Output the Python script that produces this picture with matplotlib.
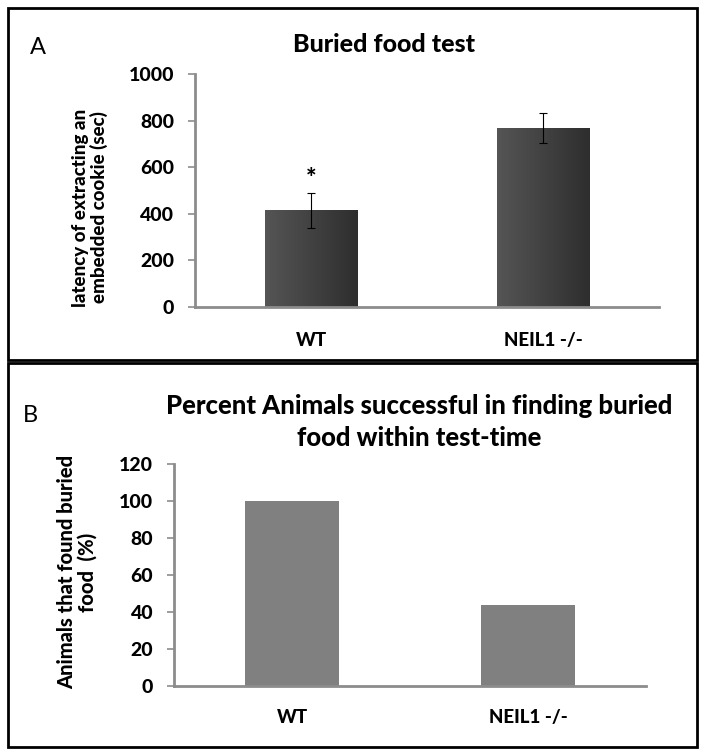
import matplotlib
matplotlib.use("Agg")
import matplotlib.pyplot as plt
import numpy as np
from matplotlib.patches import Rectangle
from matplotlib.colors import LinearSegmentedColormap

# ---- data ----
groups = ["WT", "NEIL1 -/-"]
latency = [415, 768]
latency_err = [75, 63]
percent_found = [100, 44]
title_a = "Buried food test"
ylabel_a = "latency of extracting an\nembedded cookie (sec)"
title_b = "Percent Animals successful in finding buried\nfood within test-time"
ylabel_b = "Animals that found buried\nfood  (%)"
yticks_a = [0, 200, 400, 600, 800, 1000]
yticks_b = [0, 20, 40, 60, 80, 100, 120]

plt.rcParams['font.family'] = ['Lato', 'DejaVu Sans']
BW = 900

W, H = 704, 754
fig = plt.figure(figsize=(W / 100, H / 100), dpi=100)

def fx(px):
    return px / W

def fy(py):
    return 1 - py / H

# panel borders
for (x0, y0, x1, y1) in [(8, 8, 697, 360), (8, 363, 697, 747)]:
    fig.patches.append(Rectangle((fx(x0), fy(y1)), fx(x1) - fx(x0), fy(y0) - fy(y1),
                                 transform=fig.transFigure, fill=False,
                                 edgecolor='black', linewidth=2))

def style_axes(ax, xpad):
    for s in ['top', 'right']:
        ax.spines[s].set_visible(False)
    for s in ['left', 'bottom']:
        ax.spines[s].set_color('#8c8c8c')
        ax.spines[s].set_linewidth(2)
    ax.tick_params(axis='y', direction='out', length=5, width=1.2, color='#8c8c8c',
                   labelsize=14, pad=10)
    ax.tick_params(axis='x', length=0, labelsize=13.5, pad=xpad)
    for lab in ax.get_xticklabels() + ax.get_yticklabels():
        lab.set_fontweight(BW)

x = np.arange(len(groups))

# ---- Panel A ----
A_l, A_r, A_b, A_t = 195, 659, 307, 74
axA = fig.add_axes([fx(A_l), fy(A_b), fx(A_r) - fx(A_l), fy(A_t) - fy(A_b)])
bars = axA.bar(x, latency, width=0.4, color='#444444', zorder=2)
grad = np.linspace(0, 1, 256).reshape(1, -1)
cmap = LinearSegmentedColormap.from_list('g', ['#555555', '#2e2e2e'])
for b in bars:
    bx, by, bw, bh = b.get_x(), b.get_y(), b.get_width(), b.get_height()
    im = axA.imshow(grad, cmap=cmap, extent=[bx, bx + bw, by, by + bh],
                    aspect='auto', zorder=2.5)
    im.set_clip_path(b)
axA.errorbar(x, latency, yerr=latency_err, fmt='none', ecolor='black',
             elinewidth=0.8, capsize=3, capthick=0.8, zorder=3)
axA.text(x[0], latency[0] + latency_err[0] + 12, "*", ha='center', va='bottom',
         fontsize=18, fontweight=BW)
axA.set_xlim(-0.5, 1.5)
axA.set_ylim(0, 1000)
axA.set_yticks(yticks_a)
axA.set_xticks(x)
axA.set_xticklabels(groups)
style_axes(axA, 18)
axA.set_ylabel(ylabel_a, fontsize=13.5, fontweight=BW, linespacing=1.05)
axA.yaxis.set_label_coords((108 - A_l) / (A_r - A_l), (A_b - 207.5) / (A_b - A_t))
fig.text(fx(384), fy(44), title_a, ha='center', va='center', fontsize=18, fontweight=BW)
fig.text(fx(38), fy(47), "A", ha='center', va='center', fontsize=17)

# ---- Panel B ----
B_l, B_r, B_b, B_t = 174, 646, 686, 464
axB = fig.add_axes([fx(B_l), fy(B_b), fx(B_r) - fx(B_l), fy(B_t) - fy(B_b)])
axB.bar(x, percent_found, width=0.4, color='#808080', zorder=2)
axB.set_xlim(-0.5, 1.5)
axB.set_ylim(0, 120)
axB.set_yticks(yticks_b)
axB.set_xticks(x)
axB.set_xticklabels(groups)
style_axes(axB, 16.5)
axB.set_ylabel(ylabel_b, fontsize=14.5, fontweight=BW, linespacing=1.05)
axB.yaxis.set_label_coords((97 - B_l) / (B_r - B_l), (B_b - 572) / (B_b - B_t))
fig.text(fx(419), fy(422), title_b, ha='center', va='center', fontsize=18.5,
         fontweight=BW, linespacing=1.4)
fig.text(fx(30), fy(415), "B", ha='center', va='center', fontsize=17)

fig.savefig("out.png", dpi=100)
